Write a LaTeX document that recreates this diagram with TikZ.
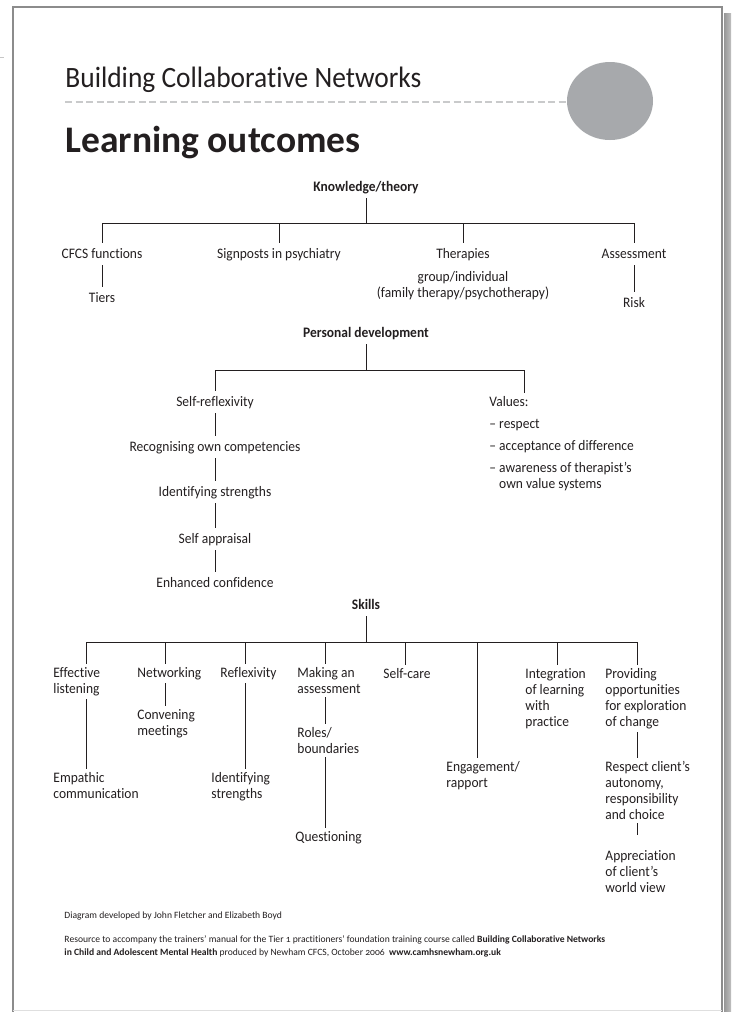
\documentclass[tikz,border=0pt]{standalone}
\usepackage{fontspec}
\setmainfont{Carlito}[Ligatures=NoCommon]
\newfontfamily\narrowfont{Carlito}[FakeStretch=0.93, Ligatures=NoCommon]
\newfontfamily\notefont{Carlito}[Numbers=OldStyle, Ligatures=NoCommon]
\definecolor{ink}{HTML}{231F20}
\definecolor{dashgrey}{HTML}{C9CACB}
\definecolor{blobgrey}{HTML}{A7A9AC}
\definecolor{edgegrey}{HTML}{8C8C8C}
\newcommand{\bodyfont}{\narrowfont\fontsize{14.5}{16}\selectfont}
\begin{document}
\begin{tikzpicture}[x=1pt, y=-1pt, ink, line width=0.9pt,
  lbl/.style={font=\bodyfont, text height=10pt, text depth=2.5pt, inner xsep=0pt, inner ysep=4.5pt, anchor=base},
  hd/.style={lbl, font=\bodyfont\bfseries},
  blk/.style={font=\bodyfont, align=left, anchor=north west, inner xsep=0pt, inner ysep=3pt}]
\useasboundingbox (0,0) rectangle (731,1012);
\fill[white] (0,0) rectangle (731,1012);

% page edge and shadow
\shade[left color=edgegrey!90, right color=edgegrey!55, draw=none] (724,13) rectangle (731,1012);
\draw[edgegrey, line width=1.2pt] (13,1012) -- (13,7) -- (722,7) -- (722,1012);
\draw[gray!25, line width=0.8pt] (13,1010) -- (722,1010);
\draw[gray!45, line width=0.8pt] (0,57) -- (4,57);

% header
\node[anchor=base west, inner sep=0pt, font=\narrowfont\fontsize{29.5}{32}\selectfont] (series) at (65,87) {Building Collaborative Networks};
\draw[dashgrey, line width=2.5pt, dash pattern=on 7pt off 3.5pt] (65,102) -- (600,102);
\fill[blobgrey] (610,101) ellipse [x radius=43pt, y radius=39pt];
\node[anchor=base west, inner sep=0pt, font=\fontsize{37.5}{40}\selectfont\bfseries] (title) at (65,152) {Learning outcomes};

% knowledge/theory
\node[hd] (know) at (366,191) {Knowledge/theory};
\path (102,223) coordinate (kb1) (279,223) coordinate (kb2)
      (463,223) coordinate (kb3) (634,223) coordinate (kb4) (366,223) coordinate (kbm);
\draw (know) -- (kbm);
\draw (kb1) -- (kb4);
\node[lbl] (cfcs)   at (102,258) {CFCS functions};
\node[lbl] (sign)   at (279,258) {Signposts in psychiatry};
\node[lbl] (ther)   at (463,258) {Therapies};
\node[lbl] (assess) at (634,258) {Assessment};
\node[lbl] (tiers)  at (102,302) {Tiers};
\node[lbl] (risk)   at (634,307) {Risk};
\node[font=\bodyfont, align=center, anchor=north, inner sep=0pt] (group) at (463,271)
  {group/individual\\(family therapy/psychotherapy)};
\foreach \i/\n in {1/cfcs,2/sign,3/ther,4/assess} \draw (kb\i) -- (\n);
\draw (cfcs) -- (tiers);
\draw (assess) -- (risk);

% personal development
\node[hd] (pers) at (366,337) {Personal development};
\path (215,370) coordinate (pb1) (524,370) coordinate (pb2) (366,370) coordinate (pbm);
\draw (pers) -- (pbm);
\draw (pb1) -- (pb2);
\node[lbl] (srefl) at (215,406) {Self-reflexivity};
\node[lbl] (recog) at (215,451) {Recognising own competencies};
\node[lbl] (ident) at (215,496) {Identifying strengths};
\node[lbl] (sapp)  at (215,543) {Self appraisal};
\node[lbl] (conf)  at (215,587) {Enhanced confidence};
\draw (pb1) -- (srefl) (srefl) -- (recog) (recog) -- (ident) (ident) -- (sapp) (sapp) -- (conf);
\node[blk] (vals) at (489,393) {Values:\\[6pt]–\ respect\\[6pt]–\ acceptance of difference\\[6pt]–\ awareness of therapist’s\\\hphantom{–\ }own value systems};
\draw (pb2) -- (pb2 |- vals.north);

% skills
\node[hd] (skl) at (366,609) {Skills};
\path (366,642) coordinate (sbm);
\foreach \x [count=\i] in {86,165,245,325,405,477,557,637} \path (\x,642) coordinate (sb\i);
\draw (skl) -- (sbm);
\draw (sb1) -- (sb8);
\node[blk] (eff)   at (53,664)  {Effective\\listening};
\node[blk] (net)   at (137,664) {Networking};
\node[blk] (refl)  at (220,664) {Reflexivity};
\node[blk] (mka)   at (297,664) {Making an\\assessment};
\node[blk] (selfc) at (383,665) {Self-care};
\node[blk] (eng)   at (446,758) {Engagement/\\rapport};
\node[blk] (intg)  at (525,665) {Integration\\of learning\\with\\practice};
\node[blk] (prov)  at (605,665) {Providing\\opportunities\\for exploration\\of change};
\node[blk] (emp)   at (53,769)  {Empathic\\communication};
\node[blk] (conv)  at (137,706) {Convening\\meetings};
\node[blk] (idst)  at (211,769) {Identifying\\strengths};
\node[blk] (roles) at (297,724) {Roles/\\boundaries};
\node[blk] (quest) at (295,828) {Questioning};
\node[blk] (resp)  at (605,758) {Respect client’s\\autonomy,\\responsibility\\and choice};
\node[blk] (appr)  at (605,847) {Appreciation\\of client’s\\world view};
\foreach \i/\n in {1/eff,2/net,3/refl,4/mka,5/selfc,6/eng,7/intg,8/prov}
  \draw (sb\i) -- (sb\i |- \n.north);
\draw (eff.south -| sb1) -- (emp.north -| sb1);
\draw (net.south -| sb2) -- (conv.north -| sb2);
\draw (refl.south -| sb3) -- (idst.north -| sb3);
\draw (mka.south -| sb4) -- (roles.north -| sb4);
\draw (roles.south -| sb4) -- (quest.north -| sb4);
\draw (prov.south -| sb8) -- (resp.north -| sb8);
\draw[shorten >=12pt] (resp.south -| sb8) -- (appr.north -| sb8);

% credits
\node[anchor=base west, inner sep=0pt, font=\notefont\fontsize{9.6}{13}\selectfont] (dev) at (64,918)
  {Diagram developed by John Fletcher and Elizabeth Boyd};
\node[anchor=north west, inner sep=0pt, align=left, font=\notefont\fontsize{9.6}{13}\selectfont] (res) at (64,935)
  {Resource to accompany the trainers’ manual for the Tier 1 practitioners’ foundation training course called \textbf{Building Collaborative Networks}\\
   \textbf{in Child and Adolescent Mental Health} produced by Newham CFCS, October 2006\ \ \textbf{www.camhsnewham.org.uk}};
\end{tikzpicture}
\end{document}
